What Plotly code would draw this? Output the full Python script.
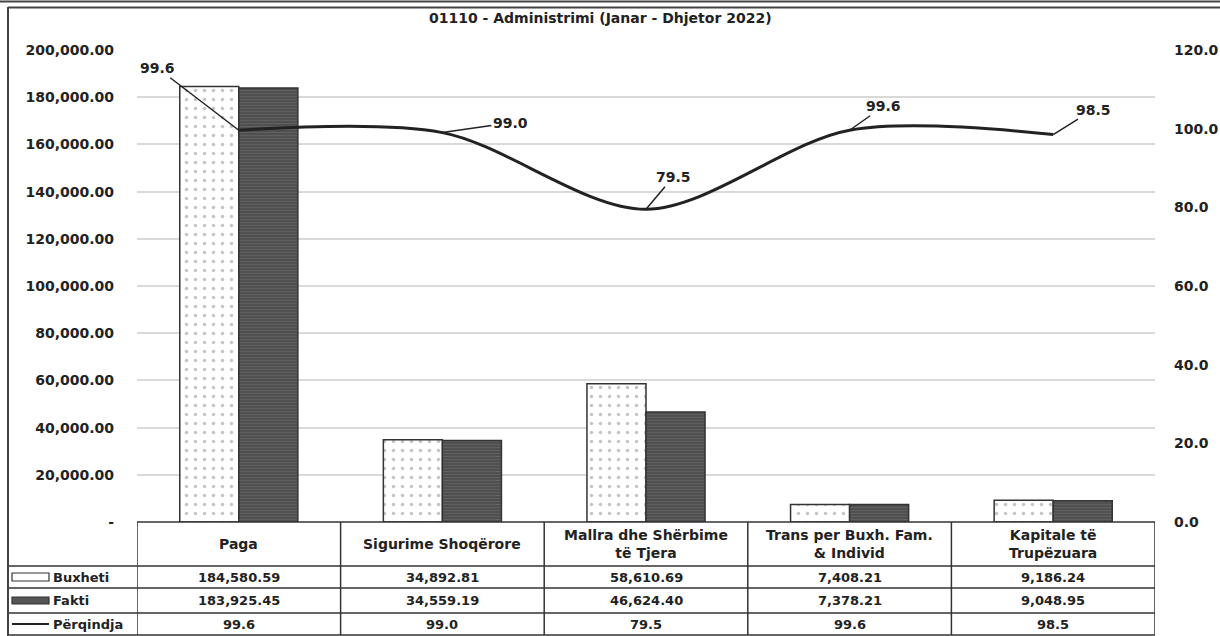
import plotly.graph_objects as go

# ---------------- data ----------------
categories = ["Paga", "Sigurime Shoqërore", "Mallra dhe Shërbime të Tjera",
              "Trans per Buxh. Fam. & Individ", "Kapitale të Trupëzuara"]
header_labels = ["Paga", "Sigurime Shoqërore", "Mallra dhe Shërbime<br>të Tjera",
                 "Trans per Buxh. Fam.<br>& Individ", "Kapitale të<br>Trupëzuara"]
buxheti = [184580.59, 34892.81, 58610.69, 7408.21, 9186.24]
fakti = [183925.45, 34559.19, 46624.40, 7378.21, 9048.95]
perqindja = [99.6, 99.0, 79.5, 99.6, 98.5]
series_names = ["Buxheti", "Fakti", "Përqindja"]
left_ticks = [0, 20000, 40000, 60000, 80000, 100000, 120000, 140000, 160000, 180000, 200000]
right_ticks = [0, 20, 40, 60, 80, 100, 120]
title_text = "01110 - Administrimi (Janar - Dhjetor 2022)"

# ---------------- styling / layout helpers ----------------
W, H = 1220, 636
L, R, T, B = 137, 1155, 50, 522          # plot area in pixels
FONT = "DejaVu Sans"
INK = "#222222"
label_offsets = [(-81, -62), (68, -10), (27, -32), (34, -24), (40, -25)]


def px(x):
    return (x - L) / (R - L)


def py(y):
    return (B - y) / (B - T)


left_ticktext = ["-"] + [f"{v:,.2f}" for v in left_ticks[1:]]
right_ticktext = [f"{v:.1f}" for v in right_ticks]

fig = go.Figure()
fig.add_trace(go.Bar(
    x=categories, y=buxheti, name=series_names[0],
    marker=dict(color="white", line=dict(color="#333333", width=1.5),
                pattern=dict(shape=".", fgcolor="#8a8a8a", size=9, solidity=0.12,
                             fillmode="overlay")),
))
fig.add_trace(go.Bar(
    x=categories, y=fakti, name=series_names[1],
    marker=dict(color="#505050", line=dict(color="#333333", width=1.5),
                pattern=dict(shape="-", fgcolor="#707070", size=3, solidity=0.35,
                             fillmode="overlay")),
))
fig.add_trace(go.Scatter(
    x=categories, y=perqindja, name=series_names[2], yaxis="y2", mode="lines",
    line=dict(color=INK, width=3, shape="spline", smoothing=0.9),
))

annotations = []
# data labels of the percentage line
for c, v, (ax, ay) in zip(categories, perqindja, label_offsets):
    annotations.append(dict(
        x=c, y=v, xref="x", yref="y2", text=f"{v:.1f}", showarrow=True,
        arrowhead=0, arrowwidth=1.5, arrowcolor=INK, ax=ax, ay=ay,
        font=dict(family=FONT, size=14, color=INK, weight="bold"),
    ))

# data table: header row + three data rows
row_centers = [577, 600.5, 624]
for c, h in zip(categories, header_labels):
    annotations.append(dict(x=c, y=py(544), xref="x", yref="paper", text=h,
                            showarrow=False, yanchor="middle",
                            font=dict(family=FONT, size=14, color=INK, weight="bold")))
rows = [[f"{v:,.2f}" for v in buxheti], [f"{v:,.2f}" for v in fakti],
        [f"{v:.1f}" for v in perqindja]]
for name, vals, yc in zip(series_names, rows, row_centers):
    annotations.append(dict(x=px(51), y=py(yc), xref="paper", yref="paper", text=name,
                            showarrow=False, xanchor="left", yanchor="middle",
                            font=dict(family=FONT, size=13, color=INK, weight="bold")))
    for c, t in zip(categories, vals):
        annotations.append(dict(x=c, y=py(yc), xref="x", yref="paper", text=t,
                                showarrow=False, yanchor="middle",
                                font=dict(family=FONT, size=13, color=INK, weight="bold")))

annotations.append(dict(x=px(600), y=py(18), xref="paper", yref="paper",
                        text=title_text, showarrow=False, xanchor="center", yanchor="middle",
                        font=dict(family=FONT, size=14, color=INK, weight="bold")))

shapes = []
line = dict(color="#333333", width=1.5)
# table horizontal lines
shapes.append(dict(type="line", xref="paper", yref="paper", x0=0, x1=1, y0=py(522), y1=py(522), line=line))
for yy in [566, 588, 613, 635]:
    shapes.append(dict(type="line", xref="paper", yref="paper", x0=px(8), x1=1,
                       y0=py(yy), y1=py(yy), line=line))
# table vertical lines at category boundaries
for k in range(len(categories) + 1):
    shapes.append(dict(type="line", xref="x", yref="paper", x0=k - 0.5, x1=k - 0.5,
                       y0=py(522), y1=py(635), line=line))
# outer border
shapes.append(dict(type="line", xref="paper", yref="paper", x0=px(8), x1=px(8),
                   y0=py(7), y1=py(636), line=dict(color="#444444", width=2)))
shapes.append(dict(type="line", xref="paper", yref="paper", x0=px(8), x1=px(1220),
                   y0=py(7.5), y1=py(7.5), line=dict(color="#444444", width=2)))
shapes.append(dict(type="line", xref="paper", yref="paper", x0=px(0), x1=px(1220),
                   y0=py(1.5), y1=py(1.5), line=dict(color="#444444", width=2)))
# legend keys in the table
shapes.append(dict(type="rect", xref="paper", yref="paper", x0=px(12), x1=px(49),
                   y0=py(581), y1=py(573), line=dict(color="#333333", width=1.2),
                   fillcolor="white"))
shapes.append(dict(type="rect", xref="paper", yref="paper", x0=px(12), x1=px(49),
                   y0=py(604), y1=py(597), line=dict(color="#333333", width=1.2),
                   fillcolor="#555555"))
shapes.append(dict(type="line", xref="paper", yref="paper", x0=px(12), x1=px(49),
                   y0=py(624), y1=py(624), line=dict(color=INK, width=2)))

fig.update_layout(
    width=W, height=H,
    margin=dict(l=L, r=W - R, t=T, b=H - B, autoexpand=False),
    paper_bgcolor="white", plot_bgcolor="white",
    barmode="group", bargap=0.42, bargroupgap=0,
    showlegend=False,
    xaxis=dict(showticklabels=False, showgrid=False, zeroline=False, showline=False,
               range=[-0.5, len(categories) - 0.5], automargin=False),
    yaxis=dict(range=[0, 200000], tickvals=left_ticks, ticktext=left_ticktext,
               showgrid=True, gridcolor="#d9d9d9", gridwidth=1.5, zeroline=False,
               showline=False, ticks="", ticklabelstandoff=22, automargin=False,
               tickfont=dict(family=FONT, size=14, color=INK, weight="bold")),
    yaxis2=dict(range=[0, 120], tickvals=right_ticks, ticktext=right_ticktext,
                overlaying="y", side="right", showgrid=False, zeroline=False,
                showline=False, ticks="", ticklabelstandoff=18, automargin=False,
                tickfont=dict(family=FONT, size=14, color=INK, weight="bold")),
    annotations=annotations,
    shapes=shapes,
)

fig.write_html("out.html", config={"displayModeBar": False},
               post_script="document.body.style.margin='0';document.body.style.padding='0';")
